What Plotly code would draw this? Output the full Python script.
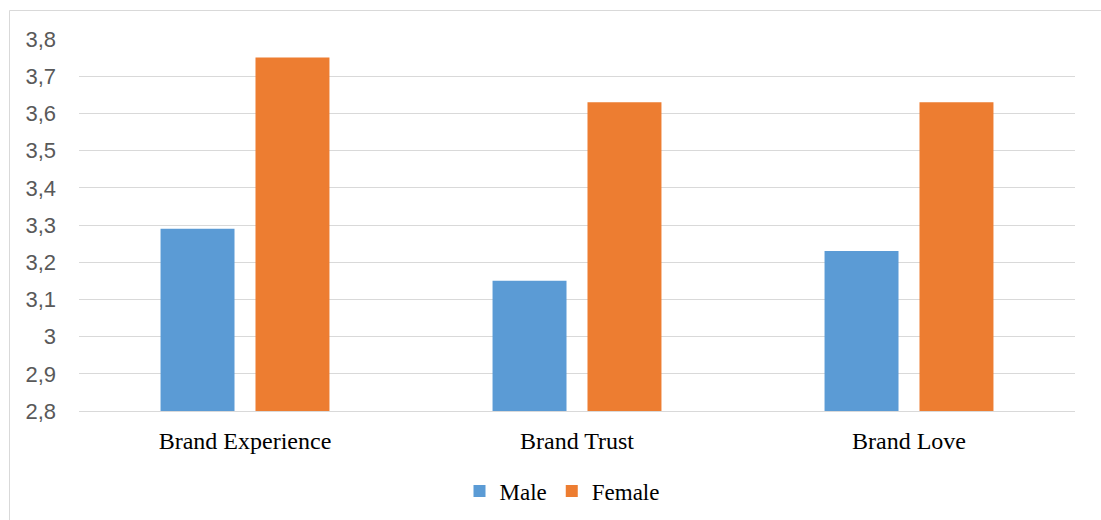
import plotly.graph_objects as go

categories = ["Brand Experience", "Brand Trust", "Brand Love"]
male = [3.29, 3.15, 3.23]
female = [3.75, 3.63, 3.63]
y_ticks = [2.8, 2.9, 3.0, 3.1, 3.2, 3.3, 3.4, 3.5, 3.6, 3.7, 3.8]
y_labels = ["2,8", "2,9", "3", "3,1", "3,2", "3,3", "3,4", "3,5", "3,6", "3,7", "3,8"]

W, H = 1101, 520
L, R, T, B = 79, 26, 39, 109
pw, ph = W - L - R, H - T - B
SERIF = "Liberation Serif"

fig = go.Figure()
fig.add_trace(go.Bar(name="Male", x=categories, y=male, marker=dict(color="#5b9bd5", line=dict(width=0))))
fig.add_trace(go.Bar(name="Female", x=categories, y=female, marker=dict(color="#ed7d31", line=dict(width=0))))

fig.update_layout(
    width=W, height=H,
    margin=dict(l=L, r=R, t=T, b=B, pad=0, autoexpand=False),
    font=dict(family=SERIF, size=23, color="#000000"),
    paper_bgcolor="white", plot_bgcolor="white",
    barmode="group", bargap=0.428, bargroupgap=0.221,
    showlegend=True,
    legend=dict(orientation="h", xref="container", yref="container",
                x=562 / W, xanchor="center", y=1 - 491 / H, yanchor="middle",
                font=dict(family=SERIF, size=23, color="#000000"),
                itemwidth=30, tracegroupgap=0),
    xaxis=dict(showgrid=False, showline=True, linecolor="#d9d9d9", linewidth=1,
               tickfont=dict(family=SERIF, size=24, color="#000000"),
               ticks="", ticklabelstandoff=8, fixedrange=True, automargin=False),
    yaxis=dict(range=[2.8, 3.8], tickmode="array", tickvals=y_ticks, ticktext=y_labels,
               showgrid=True, gridcolor="#d9d9d9", gridwidth=1, zeroline=False, showline=False,
               tickfont=dict(family="Liberation Sans", size=22, color="#595959"),
               ticks="", ticklabelstandoff=22, fixedrange=True, automargin=False),
    shapes=[dict(type="rect", xref="paper", yref="paper",
                 x0=(9.5 - L) / pw, x1=(W + 10 - L) / pw,
                 y0=-(H + 10 - T - ph) / ph, y1=1 + (T - 10.5) / ph,
                 line=dict(color="#d9d9d9", width=1), fillcolor="rgba(0,0,0,0)", layer="below")],
)

fig.write_html("out.html", config={"displayModeBar": False},
               post_script="document.body.style.margin='0';document.body.style.padding='0';")
